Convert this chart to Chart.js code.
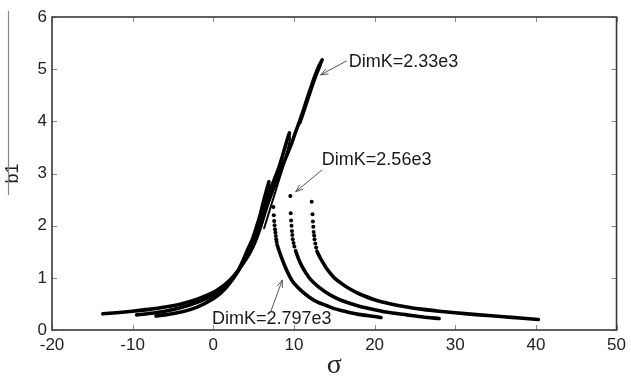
<!DOCTYPE html>
<html>
<head>
<meta charset="utf-8">
<script src="https://cdn.jsdelivr.net/npm/chart.js@4.4.1/dist/chart.umd.min.js"></script>
<style>
  html, body { margin: 0; padding: 0; background: #fff; }
  #wrap { width: 631px; height: 382px; }
</style>
</head>
<body>
<div id="wrap"><canvas id="chart" width="631" height="382"></canvas></div>
<script>
const xTicks = [-20, -10, 0, 10, 20, 30, 40, 50];
const yTicks = [0, 1, 2, 3, 4, 5, 6];

// [sigma, b1] samples of each frequency sweep

// DimK = 2.33e3
const upperA = [[-13.7, 0.31], [-12, 0.33], [-10, 0.36], [-8, 0.395], [-6, 0.44], [-4, 0.5], [-2, 0.59],
  [0, 0.72], [1, 0.82], [2, 0.95], [3, 1.12], [3.8, 1.3], [4.5, 1.47], [5.2, 1.7], [5.9, 2.0], [6.6, 2.35],
  [7.3, 2.65], [7.9, 2.88], [8.6, 3.15], [9.2, 3.38], [9.7, 3.57], [10.1, 3.75], [10.6, 3.96], [11.1, 4.18],
  [11.6, 4.42], [12.1, 4.65], [12.6, 4.87], [13.1, 5.06], [13.5, 5.18]];
const returnA = [[13.5, 5.18], [13.3, 5.06], [12.8, 4.87], [12.3, 4.65], [11.8, 4.42], [11.3, 4.18], [10.8, 3.96]];
const jumpA = [[12.2, 2.46], [12.3, 2.22], [12.35, 2.08], [12.4, 1.98], [12.45, 1.88], [12.5, 1.81],
  [12.55, 1.74], [12.65, 1.66], [12.75, 1.58]];
const lowerA = [[12.85, 1.51], [13.2, 1.4], [13.6, 1.29], [14, 1.19], [14.5, 1.09], [15, 1.0], [16, 0.88],
  [17, 0.78], [18, 0.7], [20, 0.58], [22, 0.5], [24, 0.44], [26, 0.395], [28, 0.36], [30, 0.33], [33, 0.29],
  [36, 0.255], [38, 0.23], [40.3, 0.2]];

// DimK = 2.56e3
const upperB = [[-9.5, 0.29], [-8, 0.315], [-6, 0.36], [-4, 0.43], [-2, 0.53], [0, 0.67], [1, 0.78],
  [2, 0.93], [3, 1.12], [3.7, 1.32], [4.3, 1.5], [5.0, 1.73], [5.7, 2.05], [6.3, 2.36], [6.9, 2.62],
  [7.5, 2.86], [8.1, 3.1], [8.6, 3.35], [9.0, 3.56], [9.3, 3.72], [9.45, 3.78]];
const returnB = [[9.45, 3.78], [9.5, 3.66], [9.2, 3.45], [8.7, 3.15], [8.1, 2.85], [7.5, 2.55], [6.9, 2.25], [6.3, 1.95]];
const jumpB = [[9.55, 2.57], [9.6, 2.24], [9.65, 2.1], [9.7, 2.0], [9.75, 1.9], [9.8, 1.82], [9.85, 1.74],
  [9.95, 1.67], [10.05, 1.6]];
const lowerB = [[10.2, 1.52], [10.6, 1.35], [11, 1.22], [11.5, 1.09], [12, 0.98], [13, 0.83], [14, 0.72],
  [15, 0.63], [16, 0.56], [18, 0.46], [20, 0.39], [22, 0.33], [24, 0.29], [26, 0.25], [28, 0.22]];

// DimK = 2.797e3
const upperC = [[-7.1, 0.27], [-6, 0.29], [-4, 0.345], [-2, 0.44], [0, 0.6], [1, 0.72], [2, 0.89],
  [3, 1.11], [3.6, 1.3], [4.2, 1.52], [4.8, 1.72], [5.3, 1.95], [5.8, 2.2], [6.2, 2.45], [6.6, 2.68], [6.9, 2.84]];
const returnC = [[6.9, 2.84], [7.0, 2.72], [6.8, 2.5], [6.4, 2.25], [6.0, 2.02], [5.5, 1.8], [5.0, 1.6]];
const jumpC = [[7.45, 2.36], [7.5, 2.2], [7.55, 2.09], [7.6, 2.01], [7.65, 1.93], [7.7, 1.87], [7.75, 1.8],
  [7.8, 1.74], [7.85, 1.69]];
const lowerC = [[7.9, 1.64], [8.2, 1.5], [8.6, 1.33], [9.0, 1.18], [9.5, 1.02], [10, 0.9], [11, 0.74],
  [12, 0.62], [13, 0.53], [14, 0.47], [15, 0.41], [16, 0.37], [17, 0.33], [18, 0.3], [19, 0.28], [20, 0.26], [20.8, 0.24]];

// labels with their arrows, in axis units
const notes = [
  { text: 'DimK=2.33e3', at: [16.8, 5.14], from: [16.55, 5.16], to: [13.3, 4.89] },
  { text: 'DimK=2.56e3', at: [13.46, 3.26], from: [13.49, 3.07], to: [10.21, 2.65] },
  { text: 'DimK=2.797e3', at: [-0.16, 0.21], from: [7.12, 0.35], to: [8.56, 0.96] },
];

const pts = arr => arr.map(([x, y]) => ({ x, y }));

function line(arr, width) {
  return {
    data: pts(arr), showLine: true, borderColor: '#000', borderWidth: width,
    pointRadius: 0, tension: 0.25, borderCapStyle: 'round', borderJoinStyle: 'round',
  };
}
function dots(arr) {
  return { data: pts(arr), showLine: false, pointRadius: 2, pointBackgroundColor: '#000', pointBorderWidth: 0 };
}

const frame = {
  id: 'frame',
  afterDraw(chart) {
    const { ctx, chartArea: a, scales: { x, y } } = chart;
    ctx.save();
    // inward ticks on all four sides
    ctx.strokeStyle = '#888';
    ctx.lineWidth = 1;
    ctx.beginPath();
    xTicks.forEach(v => {
      const px = Math.round(x.getPixelForValue(v)) + 0.5;
      ctx.moveTo(px, a.bottom); ctx.lineTo(px, a.bottom - 5);
      ctx.moveTo(px, a.top); ctx.lineTo(px, a.top + 5);
    });
    yTicks.forEach(v => {
      const py = Math.round(y.getPixelForValue(v)) + 0.5;
      ctx.moveTo(a.left, py); ctx.lineTo(a.left + 5, py);
      ctx.moveTo(a.right, py); ctx.lineTo(a.right - 5, py);
    });
    ctx.stroke();
    // box
    ctx.strokeStyle = '#3a3a3a';
    ctx.lineWidth = 1.6;
    ctx.strokeRect(a.left, a.top, a.right - a.left, a.bottom - a.top);
    // bar over the b1 label
    ctx.strokeStyle = '#888';
    ctx.lineWidth = 1.2;
    ctx.beginPath();
    ctx.moveTo(8.5, 11); ctx.lineTo(8.5, 195);
    ctx.stroke();
    // annotations
    ctx.font = '18px "Liberation Sans", Arial, sans-serif';
    ctx.fillStyle = '#1a1a1a';
    ctx.textBaseline = 'middle';
    ctx.textAlign = 'left';
    ctx.strokeStyle = '#555';
    ctx.lineWidth = 1;
    notes.forEach(n => {
      ctx.fillText(n.text, x.getPixelForValue(n.at[0]), y.getPixelForValue(n.at[1]));
      const x0 = x.getPixelForValue(n.from[0]), y0 = y.getPixelForValue(n.from[1]);
      const x1 = x.getPixelForValue(n.to[0]), y1 = y.getPixelForValue(n.to[1]);
      const ang = Math.atan2(y1 - y0, x1 - x0);
      ctx.beginPath();
      ctx.moveTo(x0, y0); ctx.lineTo(x1, y1);
      ctx.moveTo(x1 - 8 * Math.cos(ang - 0.35), y1 - 8 * Math.sin(ang - 0.35));
      ctx.lineTo(x1, y1);
      ctx.lineTo(x1 - 8 * Math.cos(ang + 0.35), y1 - 8 * Math.sin(ang + 0.35));
      ctx.stroke();
    });
    ctx.restore();
  },
};

const tickFont = { family: '"Liberation Sans", Arial, sans-serif', size: 17 };

new Chart(document.getElementById('chart'), {
  type: 'scatter',
  data: {
    datasets: [
      line(upperA, 3.6), line(returnA, 2), dots(jumpA), line(lowerA, 3.6),
      line(upperB, 3.6), line(returnB, 2), dots(jumpB), line(lowerB, 3.6),
      line(upperC, 3.6), line(returnC, 2), dots(jumpC), line(lowerC, 3.6),
    ],
  },
  options: {
    responsive: false,
    animation: false,
    events: [],
    layout: { padding: { top: 17, right: 12, left: 0, bottom: 0 } },
    plugins: { legend: { display: false }, tooltip: { enabled: false } },
    scales: {
      x: {
        type: 'linear', min: -20, max: 50,
        afterBuildTicks: s => { s.ticks = xTicks.map(value => ({ value })); },
        afterFit: s => { s.height = 52; },
        grid: { display: false, drawTicks: false },
        border: { display: false },
        ticks: { font: tickFont, color: '#222', padding: 5, maxRotation: 0 },
        title: {
          display: true, text: 'σ', color: '#222',
          font: { family: '"Liberation Serif", "DejaVu Serif", serif', size: 28 },
          padding: { top: 0, bottom: 0 },
        },
      },
      y: {
        type: 'linear', min: 0, max: 6,
        afterBuildTicks: s => { s.ticks = yTicks.map(value => ({ value })); },
        afterFit: s => { s.width = 52; },
        grid: { display: false, drawTicks: false },
        border: { display: false },
        ticks: { font: tickFont, color: '#222', padding: 5 },
        title: {
          display: true, text: 'b1', color: '#222',
          font: { family: '"Liberation Sans", Arial, sans-serif', size: 18 },
          padding: { top: 2, bottom: 0 },
        },
      },
    },
  },
  plugins: [frame],
});
</script>
</body>
</html>
